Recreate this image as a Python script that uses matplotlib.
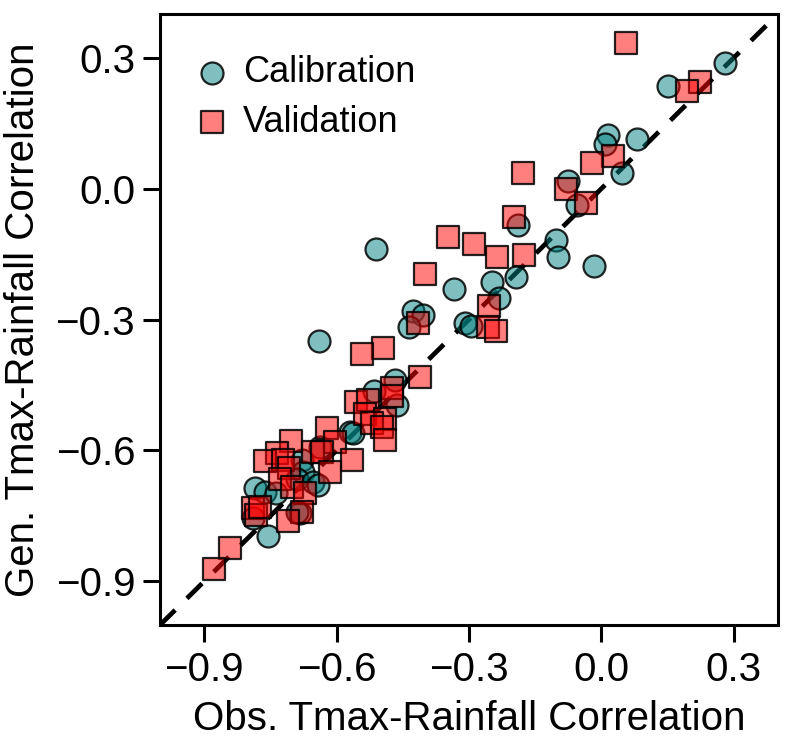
import numpy as np
import matplotlib.pyplot as plt

plt.rcParams['font.family'] = ['Liberation Sans', 'DejaVu Sans']

# calibration points (obs, gen)
cal_x = [0.280, 0.150, 0.016, 0.008, 0.080, 0.046, -0.076, -0.055, -0.190, -0.103,
         -0.098, -0.017, -0.333, -0.247, -0.193, -0.231, -0.309, -0.295, -0.511, -0.426,
         -0.405, -0.437, -0.639, -0.468, -0.515, -0.464, -0.570, -0.562, -0.638, -0.679,
         -0.675, -0.690, -0.653, -0.641, -0.785, -0.762, -0.737, -0.683, -0.690, -0.789,
         -0.755]
cal_y = [0.288, 0.234, 0.123, 0.102, 0.113, 0.035, 0.017, -0.038, -0.084, -0.118,
         -0.156, -0.177, -0.229, -0.213, -0.203, -0.250, -0.307, -0.315, -0.139, -0.280,
         -0.290, -0.317, -0.349, -0.439, -0.463, -0.496, -0.557, -0.561, -0.592, -0.622,
         -0.650, -0.665, -0.672, -0.679, -0.687, -0.695, -0.697, -0.744, -0.740, -0.756,
         -0.796]

# validation points (obs, gen)
val_x = [0.055, 0.223, 0.193, 0.027, -0.021, -0.081, -0.178, -0.035, -0.198, -0.347,
         -0.288, -0.237, -0.175, -0.254, -0.258, -0.239, -0.400, -0.416, -0.494, -0.543,
         -0.411, -0.475, -0.475, -0.557, -0.528, -0.536, -0.490, -0.520, -0.498, -0.490,
         -0.622, -0.604, -0.703, -0.653, -0.634, -0.566, -0.736, -0.763, -0.721, -0.707,
         -0.615, -0.728, -0.702, -0.672, -0.679, -0.709, -0.789, -0.783, -0.773, -0.841,
         -0.877]
val_y = [0.334, 0.245, 0.224, 0.075, 0.058, 0.000, 0.036, -0.034, -0.066, -0.110,
         -0.126, -0.156, -0.152, -0.268, -0.317, -0.326, -0.196, -0.309, -0.365, -0.380,
         -0.431, -0.458, -0.475, -0.488, -0.485, -0.517, -0.527, -0.538, -0.546, -0.576,
         -0.549, -0.581, -0.578, -0.603, -0.603, -0.622, -0.607, -0.624, -0.622, -0.641,
         -0.649, -0.665, -0.683, -0.698, -0.740, -0.761, -0.733, -0.748, -0.729, -0.823,
         -0.872]

ticks = [-0.9, -0.6, -0.3, 0.0, 0.3]
tick_labels = ['\u22120.9', '\u22120.6', '\u22120.3', '0.0', '0.3']
lims = [-1.0, 0.4]

fig = plt.figure(figsize=(7.86, 7.39), dpi=100)
ax = fig.add_axes([0.2036, 0.1543, 0.7862, 0.8267])

ax.plot(lims, lims, 'k', ls=(0, (4.5, 3.5)), lw=3.4, zorder=1)
ax.scatter(cal_x, cal_y, s=250, marker='o', facecolors=(0, 0.5, 0.5, 0.5),
           edgecolors=(0, 0, 0, 0.85), linewidths=1.6, label='Calibration', zorder=2)
ax.scatter(val_x, val_y, s=230, marker='s', facecolors=(1, 0, 0, 0.5),
           edgecolors=(0, 0, 0, 0.85), linewidths=1.6, label='Validation', zorder=3)

ax.set_xlim(lims)
ax.set_ylim(lims)
ax.set_xticks(ticks)
ax.set_yticks(ticks)
ax.set_xticklabels(tick_labels)
ax.set_yticklabels(tick_labels)
ax.tick_params(direction='out', length=12, width=2.2, labelsize=29)
ax.tick_params(axis='x', pad=7)
ax.tick_params(axis='y', pad=6)
for sp in ax.spines.values():
    sp.set_linewidth(2.2)

ax.set_xlabel('Obs. Tmax-Rainfall Correlation', fontsize=29, labelpad=8)
ax.set_ylabel('Gen. Tmax-Rainfall Correlation', fontsize=29, labelpad=10)

leg = ax.legend(loc='upper left', bbox_to_anchor=(0.0, 0.98), frameon=False,
                fontsize=26, handletextpad=0.2, borderaxespad=0.4,
                labelspacing=0.4, handlelength=1.3)

plt.savefig('out.png')
